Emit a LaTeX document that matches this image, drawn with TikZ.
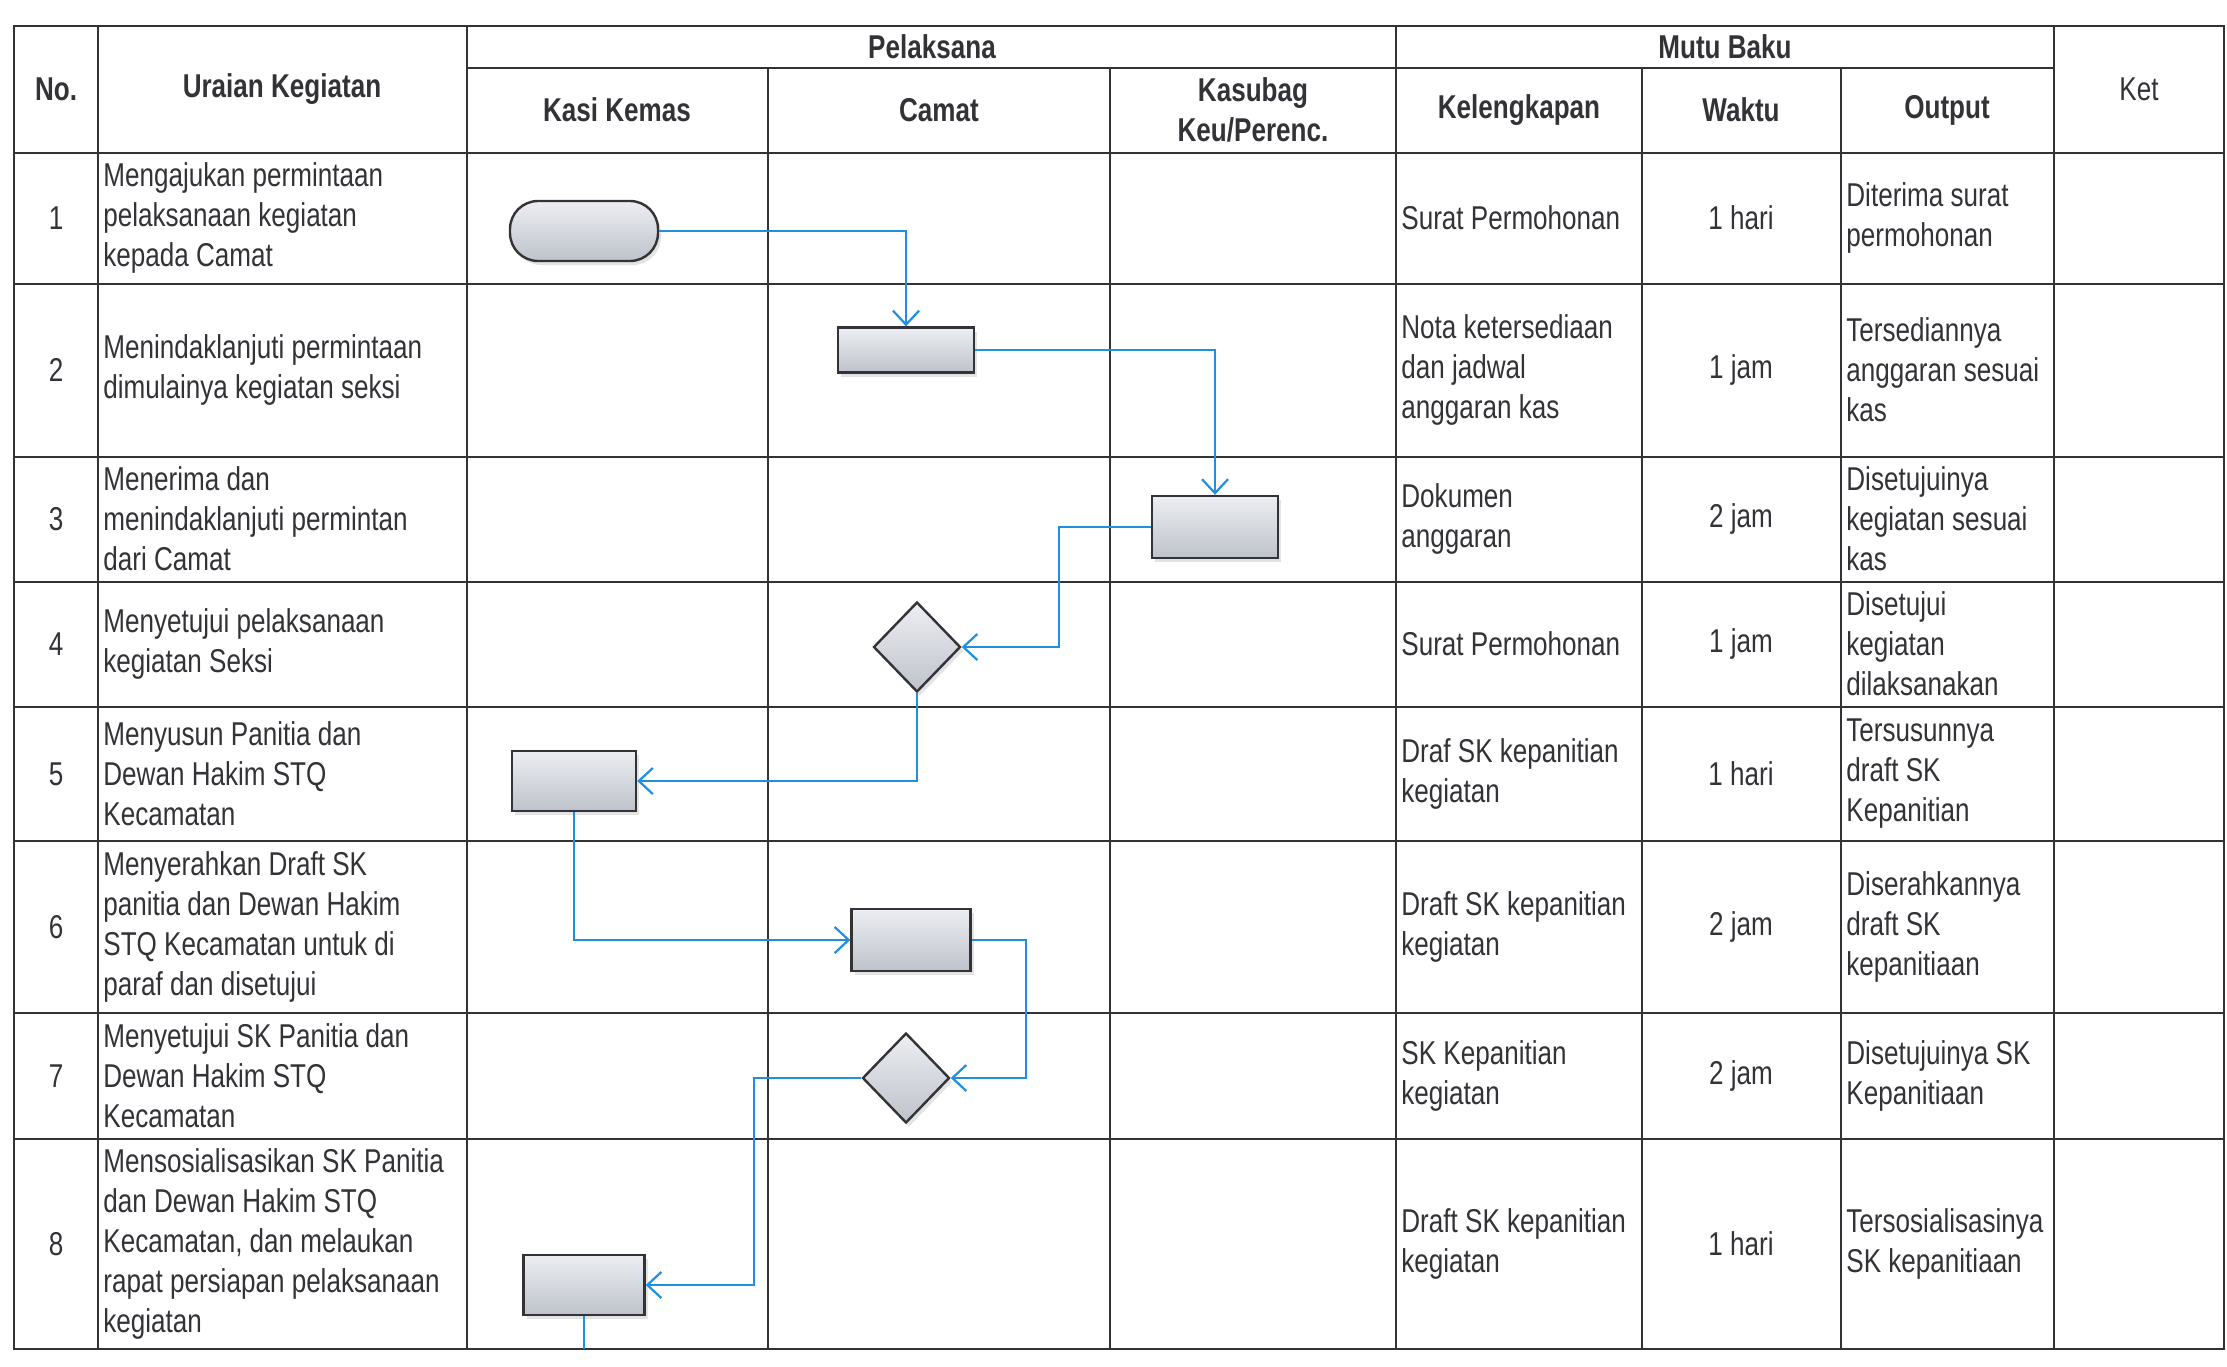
\documentclass[tikz,border=0pt]{standalone}
\usepackage{fontspec}
\setmainfont{Liberation Sans}[FakeStretch=0.79]
\usepackage{xcolor}
\usetikzlibrary{shapes.geometric, arrows.meta, positioning, shadows}

\definecolor{flowblue}{RGB}{30,144,222}
\definecolor{inkgray}{RGB}{50,50,55}
\definecolor{boxtop}{RGB}{236,238,242}
\definecolor{boxbot}{RGB}{190,194,202}
\newcommand{\cellfont}{\fontsize{16.5pt}{20pt}\selectfont}

\begin{document}
\begin{tikzpicture}[
    x=0.5pt, y=-0.5pt,
    grid/.style={draw=inkgray, line width=1.4pt},
    hdr/.style={font=\cellfont\bfseries, text=inkgray, align=center},
    txt/.style={font=\cellfont, text=inkgray, align=left, anchor=west, inner sep=0pt},
    num/.style={font=\cellfont, text=inkgray, align=center},
    flowshape/.style={draw=inkgray, line width=1.2pt, top color=boxtop, bottom color=boxbot,
        drop shadow={opacity=0.22, shadow xshift=1.5pt, shadow yshift=-2pt}},
    term/.style={flowshape, rectangle, rounded corners=14pt, minimum width=74pt, minimum height=30pt},
    proc/.style={flowshape, rectangle, minimum width=61pt, minimum height=30pt},
    decide/.style={flowshape, diamond, inner sep=0pt, minimum width=43.5pt, minimum height=45pt},
    flow/.style={draw=flowblue, line width=1.1pt, -{Straight Barb[length=7pt, width=13pt]}},
    tail/.style={draw=flowblue, line width=1.1pt}
]
\useasboundingbox (0,0) rectangle (2227,1366);

% Table grid
\draw[grid] (14,26) rectangle (2224,1349);
\draw[grid] (467,68) -- (2054,68);
\foreach \y in {153,284,457,582,707,841,1013,1139}
    \draw[grid] (14,\y) -- (2224,\y);
\foreach \x in {98,467,1396,2054}
    \draw[grid] (\x,26) -- (\x,1349);
\foreach \x in {768,1110,1642,1841}
    \draw[grid] (\x,68) -- (\x,1349);

% Header
\node[hdr] (h_no) at (56,89) {No.};
\node[hdr] (h_uraian) at (282,89) {Uraian Kegiatan};
\node[hdr] (h_pel) at (932,47) {Pelaksana};
\node[hdr] (h_kasi) at (617,110) {Kasi Kemas};
\node[hdr] (h_camat) at (939,110) {Camat};
\node[hdr] (h_kasubag) at (1253,110) {Kasubag\\Keu/Perenc.};
\node[hdr] (h_mutu) at (1725,47) {Mutu Baku};
\node[hdr] (h_kel) at (1519,110) {Kelengkapan};
\node[hdr] (h_waktu) at (1741,110) {Waktu};
\node[hdr] (h_output) at (1947,110) {Output};
\node[num] (h_ket) at (2139,89) {Ket};

% Row numbers
\node[num] (n1) at (56,218) {1};
\node[num] (n2) at (56,370) {2};
\node[num] (n3) at (56,519) {3};
\node[num] (n4) at (56,644) {4};
\node[num] (n5) at (56,774) {5};
\node[num] (n6) at (56,927) {6};
\node[num] (n7) at (56,1076) {7};
\node[num] (n8) at (56,1244) {8};

% Uraian kegiatan
\node[txt] (u1) at (103,218) {Mengajukan permintaan\\pelaksanaan kegiatan\\kepada Camat};
\node[txt] (u2) at (103,370) {Menindaklanjuti permintaan\\dimulainya kegiatan seksi};
\node[txt] (u3) at (103,519) {Menerima dan\\menindaklanjuti permintan\\dari Camat};
\node[txt] (u4) at (103,644) {Menyetujui pelaksanaan\\kegiatan Seksi};
\node[txt] (u5) at (103,774) {Menyusun Panitia dan\\Dewan Hakim STQ\\Kecamatan};
\node[txt] (u6) at (103,927) {Menyerahkan Draft SK\\panitia dan Dewan Hakim\\STQ Kecamatan untuk di\\paraf dan disetujui};
\node[txt] (u7) at (103,1076) {Menyetujui SK Panitia dan\\Dewan Hakim STQ\\Kecamatan};
\node[txt] (u8) at (103,1244) {Mensosialisasikan SK Panitia\\dan Dewan Hakim STQ\\Kecamatan, dan melaukan\\rapat persiapan pelaksanaan\\kegiatan};

% Kelengkapan
\node[txt] (k1) at (1401,218) {Surat Permohonan};
\node[txt] (k2) at (1401,370) {Nota ketersediaan\\dan jadwal\\anggaran kas};
\node[txt] (k3) at (1401,519) {Dokumen\\anggaran};
\node[txt] (k4) at (1401,644) {Surat Permohonan};
\node[txt] (k5) at (1401,774) {Draf SK kepanitian\\kegiatan};
\node[txt] (k6) at (1401,927) {Draft SK kepanitian\\kegiatan};
\node[txt] (k7) at (1401,1076) {SK Kepanitian\\kegiatan};
\node[txt] (k8) at (1401,1244) {Draft SK kepanitian\\kegiatan};

% Waktu
\node[num] (w1) at (1741,218) {1 hari};
\node[num] (w2) at (1741,370) {1 jam};
\node[num] (w3) at (1741,519) {2 jam};
\node[num] (w4) at (1741,644) {1 jam};
\node[num] (w5) at (1741,774) {1 hari};
\node[num] (w6) at (1741,927) {2 jam};
\node[num] (w7) at (1741,1076) {2 jam};
\node[num] (w8) at (1741,1244) {1 hari};

% Output
\node[txt] (o1) at (1846,218) {Diterima surat\\permohonan};
\node[txt] (o2) at (1846,370) {Tersediannya\\anggaran sesuai\\kas};
\node[txt] (o3) at (1846,519) {Disetujuinya\\kegiatan sesuai\\kas};
\node[txt] (o4) at (1846,644) {Disetujui\\kegiatan\\dilaksanakan};
\node[txt] (o5) at (1846,774) {Tersusunnya\\draft SK\\Kepanitian};
\node[txt] (o6) at (1846,927) {Diserahkannya\\draft SK\\kepanitiaan};
\node[txt] (o7) at (1846,1076) {Disetujuinya SK\\Kepanitiaan};
\node[txt] (o8) at (1846,1244) {Tersosialisasinya\\SK kepanitiaan};

% Flow shapes
\node[term] (t1) at (584,231) {};
\node[proc, minimum width=68pt, minimum height=22.5pt] (p2) at (906,350) {};
\node[proc, minimum width=63pt, minimum height=31pt] (p3) at (1215,527) {};
\node[decide] (d4) at (917,647) {};
\node[proc, minimum width=62pt] (p5) at (574,781) {};
\node[proc, minimum width=59.5pt, minimum height=31pt] (p6) at (911,940) {};
\node[decide] (d7) at (906,1078) {};
\node[proc, minimum width=60.5pt] (p8) at (584,1285) {};

% Bends
\coordinate (j3) at (1059,647);
\coordinate (j6) at (1026,1078);
\coordinate (j7) at (754,1285);
\coordinate (e8) at (584,1349);

% Connectors
\draw[flow] (t1.east) -| (p2.north);
\draw[flow] (p2.east) -| (p3.north);
\draw[flow] (p3.west) -| (j3) -- (d4.east);
\draw[flow] (d4.south) |- (p5.east);
\draw[flow] (p5.south) |- (p6.west);
\draw[flow] (p6.east) -| (j6) -- (d7.east);
\draw[flow] (d7.west) -| (j7) -- (p8.east);
\draw[tail] (p8.south) -- (e8);

\end{tikzpicture}
\end{document}
